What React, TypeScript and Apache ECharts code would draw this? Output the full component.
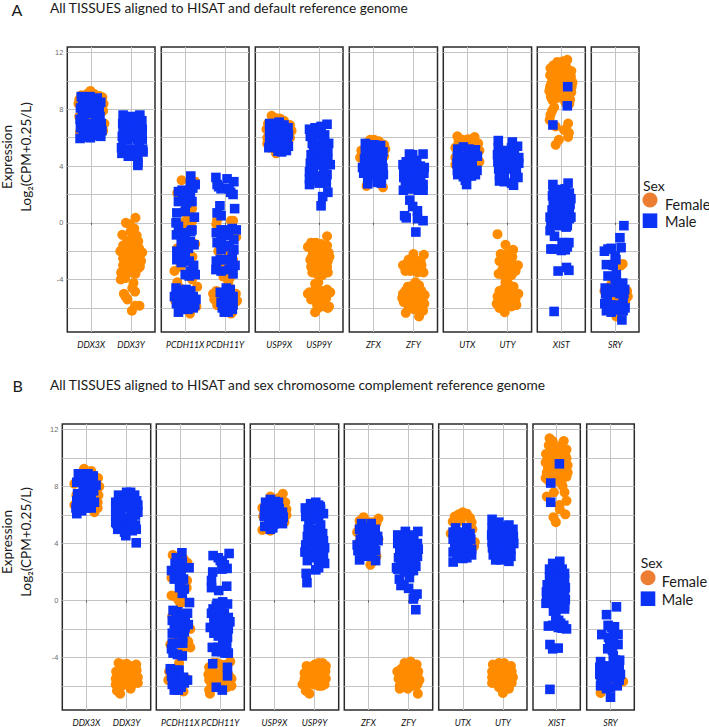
import React, { useEffect, useRef } from "react";
import * as echarts from "echarts";

// [jitter around the gene's position, log2 expression]
const aDdx3xF = [[-.3,8.7],[-.25,9],[-.1,9.1],[-.02,9.3],[.07,9.1],[.2,8.95],[.28,8.85],[.31,8.4],[.3,7.9],[.33,7],[.3,6.5],[-.28,6.4],[-.32,8.4],[-.3,7.5],[-.2,8.2],[.1,8],[-.1,7.3],[.05,7.3],[-.15,7.3]];
const aDdx3xM = [[-.28,5.95],[-.2,6.3],[-.13,6.05],[-.02,6],[.1,6.15],[.24,6.1],[.27,6.5],[-.27,6.7],[-.28,7.3],[-.15,6.8],[-.05,6.5],[.07,6.6],[.18,6.7],[.25,7],[.22,7.5],[.12,7.2],[0,7],[-.19,7.15],[-.22,7.7],[-.27,8.1],[-.14,7.9],[-.02,7.7],[.1,7.8],[.2,8.1],[.24,8.5],[.11,8.4],[0,8.3],[-.12,8.5],[-.22,8.5],[-.03,8.9],[.15,8.8],[-.25,8.9]];
const aDdx3yF = [[.11,.35],[-.13,0],[-.04,-.1],[.08,-.4],[-.01,-.6],[.14,-.9],[-.22,-.85],[.03,-1],[.18,-1.3],[-.1,-1.3],[.08,-1.5],[-.2,-1.6],[-.02,-1.7],[.2,-1.8],[-.27,-2],[-.1,-2.1],[.05,-2.1],[.28,-2.1],[.15,-2.4],[-.2,-2.5],[-.05,-2.6],[.25,-2.7],[.08,-2.9],[-.2,-3],[-.08,-3.1],[.18,-3.2],[-.14,-3.5],[.02,-3.5],[.11,-3.6],[-.26,-4],[-.15,-3.9],[.06,-4.25],[.1,-4.85],[.03,-4.6],[-.18,-5],[-.09,-5.4],[-.14,-5.2],[.02,-6.2],[.21,-5.85],[.1,-5.85],[-.2,-2.1],[.2,-2.3],[.12,-3],[-.1,-2.5],[.22,-3.1],[-.25,-3.5]];
const aDdx3yM = [[-.2,7.6],[-.1,7.4],[0,7.5],[.1,7.4],[.22,7.6],[-.21,7],[-.1,7],[.02,7],[.13,7],[.27,7.2],[-.2,6.4],[-.07,6.5],[.05,6.5],[.17,6.4],[.28,6.6],[-.2,5.9],[-.08,5.85],[.04,6.05],[.16,5.9],[-.24,5.3],[-.13,5.2],[-.02,5.1],[.1,5.2],[.2,5.3],[.29,5.2],[-.23,4.9],[-.07,4.7],[.04,4.75],[.17,4.6],[.3,5],[.17,4.25],[.17,4.05],[.28,5.9],[.27,6.2],[-.22,6.1]];
const aPcdh11xF = [[-.09,3],[.25,2.9],[-.2,2.1],[.02,1.2],[.17,1],[.05,.4],[-.04,0],[.17,.1],[-.05,-.3],[.25,-1.5],[-.2,-1.8],[.18,-2.4],[-.12,-3.1],[-.27,-3.4],[.2,-3.1],[-.2,-4.2],[.17,-4],[.3,-4.5],[-.13,-4.6],[.12,-6.4],[-.25,-5.5],[.28,-5.9]];
const aPcdh11xM = [[.14,3.3],[.25,2.7],[.13,2.8],[-.08,2.3],[-.17,2.2],[.04,2.2],[.19,2.45],[.13,1.85],[-.06,1.85],[-.17,1.5],[.03,1.4],[.17,1.5],[0,.8],[-.21,.7],[.23,.4],[-.23,0],[-.17,-.25],[.17,-.5],[-.22,-.85],[-.08,-.7],[.14,-.6],[0,-1.2],[.13,-1.3],[.22,-1.55],[-.08,-1.8],[.08,-1.8],[-.21,-2],[0,-2.25],[-.21,-2.6],[.21,-3],[.13,-3.4],[0,-3.65],[.25,-3.65],[.1,-3.75],[-.23,-4.6],[-.12,-4.8],[.02,-4.7],[.14,-4.8],[-.27,-5.2],[-.17,-5.3],[-.05,-5.2],[.07,-5.3],[.2,-5.2],[.27,-5.4],[-.22,-5.7],[-.1,-5.8],[.02,-5.8],[.13,-5.7],[.24,-5.8],[-.17,-6.3],[-.06,-6.1],[.07,-6.1],[.2,-6],[-.1,-1.4],[.1,-2.7],[-.1,-2.8]];
const aPcdh11yF = [[-.2,.2],[.15,.15],[.2,.15],[-.22,-.1],[.2,-.6],[.28,-1],[-.17,-2],[.1,-2.2],[.2,-2.6],[.1,-2.8],[-.12,-3.1],[-.04,-3.8],[.12,-3.9],[.08,-4.3],[-.3,-5],[-.22,-4.8],[-.27,-5.4],[-.2,-5.8],[-.1,-5.3],[.27,-5],[.3,-5.5],[.18,-6.3],[-.08,-5.9],[.22,-5.7],[.15,-6.4]];
const aPcdh11yM = [[-.23,3.2],[.05,3.1],[.22,2.9],[-.2,2.7],[-.1,2.4],[-.16,2.55],[.1,2.4],[.2,2],[.14,2.15],[-.13,1.2],[.24,1],[-.2,.7],[-.1,.5],[.18,-.4],[.02,-.5],[-.1,-.5],[-.22,-.7],[.28,-.5],[.08,-.9],[-.1,-1],[.22,-1.2],[-.2,-1.4],[.1,-1.6],[-.1,-1.9],[.22,-1.9],[0,-1.7],[.18,-2.4],[-.22,-2.7],[-.12,-2.6],[.02,-2.6],[.25,-3],[-.23,-3.3],[.1,-3.3],[.2,-3.6],[-.1,-3.4],[.03,-4.6],[.13,-4.7],[-.12,-4.9],[.1,-5],[-.03,-5.2],[.2,-5.2],[-.1,-5.6],[.02,-5.6],[.13,-5.5],[.2,-5.8],[-.02,-6.3],[.08,-6.3],[.18,-6.1],[-.07,-6],[-.1,-1.4],[.15,-2.9]];
const aUsp9xF = [[-.19,7.55],[-.1,7.4],[-.28,7],[-.32,6.6],[-.3,6],[-.3,5.6],[-.25,5.3],[-.08,4.9],[.14,5.4],[.27,6],[.31,6.5],[.27,6.9],[.12,7.2],[.02,7.35]];
const aUsp9xM = [[-.24,7],[-.12,7],[0,7.1],[.12,6.9],[.22,6.7],[-.24,6.5],[-.12,6.45],[0,6.5],[.12,6.4],[.23,6.2],[-.24,5.9],[-.12,5.9],[0,5.95],[.12,5.85],[.2,5.7],[-.26,5.3],[-.14,5.35],[-.02,5.3],[.12,5.4],[.23,5.4],[-.03,5.05],[.06,5],[.18,5.1]];
const aUsp9yF = [[.2,-.95],[-.2,-1.4],[-.08,-1.4],[.05,-1.5],[.2,-1.6],[-.28,-1.7],[-.16,-2],[-.04,-2],[.1,-2],[.24,-2.1],[-.18,-2.4],[-.05,-2.5],[.1,-2.5],[.26,-2.4],[-.15,-3],[0,-3],[.14,-3],[-.2,-3.1],[.2,-3.1],[-.17,-3.5],[-.06,-3.6],[.08,-3.7],[.22,-3.5],[-.1,-4.3],[-.08,-4.6],[.1,-4.8],[-.24,-4.9],[-.14,-5],[0,-4.8],[.2,-4.7],[.28,-4.9],[-.28,-5],[-.12,-5.4],[.04,-5.4],[.18,-5.3],[.25,-5.9],[-.05,-5.8],[.14,-5.9],[-.1,-6.3],[.22,-6],[-.22,-2.6],[.22,-2.7],[-.1,-3.3],[.05,-3.3],[-.2,-5.4],[.1,-5.3],[-.02,-6],[-.02,-4.2]];
const aUsp9yM = [[.2,6.95],[-.24,6.6],[-.1,6.7],[.05,6.8],[-.22,6.1],[-.1,6.2],[.02,6.3],[.14,6.2],[-.17,5.6],[-.06,5.5],[.08,5.6],[.24,5.6],[.18,5.2],[-.14,5.2],[0,5.1],[.15,4.9],[-.2,4.8],[-.05,4.6],[.08,4.6],[.22,4.5],[.28,4.1],[-.22,4.2],[-.1,4.1],[.05,4.1],[.18,4.1],[-.24,3.6],[-.14,3.6],[0,3.3],[.2,3.4],[-.24,3.1],[.18,3],[-.24,2.7],[0,2.8],[.18,2.8],[.22,2.15],[.09,1.85],[.05,1.2],[.13,5.6],[.22,5.1],[.12,3.7],[-.08,3],[-.2,3.9]];
const aZfxF = [[-.18,5.6],[-.08,5.85],[.02,5.85],[.14,5.75],[.27,5.5],[.3,5.2],[-.3,5.1],[-.33,4.6],[-.25,3.9],[-.17,2.6],[.24,2.5],[.1,3.5],[.27,4.7],[-.02,4.9]];
const aZfxM = [[-.2,5.6],[-.1,5.45],[.02,5.5],[.18,5.45],[-.2,5],[-.06,5],[.1,5.05],[.24,5],[-.22,4.5],[-.1,4.5],[.05,4.5],[.22,4.4],[-.27,3.9],[-.14,4],[0,4],[.13,3.9],[.24,3.85],[-.24,3.5],[-.1,3.4],[.1,3.5],[.25,3.4],[-.14,3],[-.14,2.75],[.1,2.85],[.2,2.8]];
const aZfyF = [[0,-2.2],[.26,-2.25],[.18,-2.7],[-.26,-3],[-.17,-2.9],[-.05,-2.9],[.1,-2.7],[.2,-3],[-.2,-3.4],[-.08,-3.4],[.06,-3.3],[.25,-3.5],[-.26,-5],[.05,-4.2],[.14,-4.4],[-.08,-4.5],[-.2,-4.8],[.2,-4.8],[.28,-5.1],[-.28,-5.3],[-.1,-5.1],[.06,-5],[.15,-5.3],[-.24,-5.6],[-.05,-5.7],[.2,-5.7],[.27,-5.7],[-.12,-6],[.08,-5.9],[-.19,-6.35],[.14,-6.6],[.24,-6.2],[-.12,-2.6],[.1,-3.5],[-.14,-4.5],[-.02,-4.4],[.1,-4.5],[-.16,-5.3],[.02,-5.5],[.12,-5.6],[.15,-4.9],[.02,-6.1]];
const aZfyM = [[.24,4.85],[-.02,4.8],[-.1,4.85],[-.18,4.3],[-.06,4.4],[.08,4.4],[-.26,4.1],[-.24,3.7],[-.1,3.9],[.04,3.9],[.17,4],[.27,3.9],[-.24,3.2],[-.12,3.4],[.02,3.4],[.15,3.4],[.26,3.5],[-.2,2.8],[-.08,2.9],[.05,2.9],[.18,2.9],[.24,2.7],[-.25,2.3],[-.12,2.4],[0,2.4],[.12,2.3],[.24,2.3],[-.09,1.6],[-.02,1.15],[.1,.85],[-.22,.5],[-.18,.35],[.1,.3],[.24,.15],[.06,-.65]];
const aUtxF = [[-.25,6.1],[-.22,5.75],[-.12,5.85],[.02,5.9],[.18,6.05],[.27,5.6],[-.03,5.6],[.1,5.75],[-.3,5.3],[.3,5.1],[-.3,4.6],[.3,4.3],[-.3,4.1],[.2,4.1],[.15,3.95]];
const aUtxM = [[-.24,5.2],[-.1,5.35],[.04,5.2],[.2,5.15],[-.25,4.7],[-.1,4.7],[.07,4.7],[.25,4.7],[-.26,4.2],[-.13,4.1],[0,4.2],[.12,4.3],[-.25,3.7],[-.12,3.6],[.02,3.75],[.24,3.7],[.1,3.9],[-.24,3.4],[-.1,3.25],[.1,3.3],[.2,3.4],[-.05,3],[-.02,2.7]];
const aUtyF = [[-.25,-.8],[-.05,-1.55],[.14,-1.9],[-.17,-2.2],[-.02,-2.2],[.12,-2.4],[-.2,-2.7],[-.05,-2.8],[.1,-2.9],[.26,-3],[-.13,-3.3],[.05,-3.3],[.2,-3.4],[-.22,-3.6],[-.1,-3.7],[.1,-3.7],[.02,-4.3],[.15,-4.5],[-.2,-4.8],[-.08,-4.6],[.08,-4.9],[.27,-5],[-.25,-5.2],[-.1,-5.2],[.05,-5.3],[.2,-5.4],[-.27,-5.7],[-.15,-5.7],[0,-5.8],[.22,-5.8],[-.2,-6],[-.1,-6],[-.07,-6.3],[.1,-5.9],[.14,-5.1],[-.16,-4.9],[-.05,-4.2],[.18,-3],[-.1,-2.4],[.12,-5.6]];
const aUtyM = [[-.23,5.8],[.12,5.7],[-.23,5.3],[-.05,5.1],[.1,5.3],[.25,5.4],[-.25,4.8],[-.12,4.8],[.04,4.8],[.17,4.9],[.28,4.6],[-.24,4.3],[-.14,4.3],[.03,4.3],[.15,4.3],[.28,4.2],[-.22,3.8],[-.1,3.8],[.1,3.8],[.22,3.7],[-.2,3.4],[-.08,3.4],[.18,3.4],[.26,3.2],[-.2,2.95],[-.08,2.9],[.1,2.8],[.15,2.65]];
const aXistF = [[.15,11.5],[.05,11.4],[-.1,11.35],[-.2,11.1],[-.27,10.9],[.12,11],[0,10.9],[-.28,10.4],[-.15,10.6],[-.02,10.4],[.1,10.5],[.24,10.3],[.28,9.9],[-.22,10],[-.08,9.9],[.12,9.9],[-.28,9.6],[-.15,9.5],[0,9.5],[.22,9.5],[-.3,9.3],[-.18,9.2],[-.05,9.1],[.1,9.1],[.25,9.2],[-.26,8.9],[-.22,8.65],[.04,8.85],[.14,8.75],[.22,8.7],[-.18,8.15],[-.23,7.9],[-.27,7.6],[-.29,7.25],[-.14,6.8],[.17,7],[.07,6.55],[.19,6.35],[.17,6.05],[-.06,5.85],[-.14,5.5],[.25,10.7],[-.1,10.2],[.02,9.9],[.26,9.6],[-.25,9.8],[.2,10.1],[-.1,8.8],[.2,8.4],[.1,8.5]];
const aXistM = [[.16,9.6],[.15,8.25],[-.21,6.9],[.17,2.8],[-.21,2.7],[-.2,2.3],[-.05,2.35],[.1,2.4],[.2,2.1],[-.22,1.9],[-.1,1.85],[.04,1.9],[.24,1.7],[-.2,1.4],[-.05,1.3],[.12,1.4],[.22,1.3],[-.23,.9],[-.1,.85],[.05,.9],[.2,.9],[-.28,.4],[-.16,.45],[.02,.5],[.12,.5],[-.26,.05],[-.12,.05],[.05,0],[.15,-.2],[-.28,-.55],[.12,-.3],[-.17,-.95],[.1,-1.4],[.19,-1.4],[.02,-1.4],[.05,-1.75],[.15,-1.7],[-.26,-1.85],[-.2,-1.85],[0,-1.95],[.1,-1.9],[-.08,-3.4],[.13,-3.15],[.19,-3.35],[-.18,-6.25],[.2,.3],[.24,.4],[-.1,1.1],[.15,.1],[-.05,-.2]];
const aSryF = [[.19,-2.9],[.15,-3],[-.1,-4.35],[.03,-6.6],[-.27,-4.8],[.3,-4.8],[-.22,-5.6],[.25,-5.6],[-.02,-5.2],[.1,-5.4],[-.12,-5.3],[.32,-5.2]];
const aSryM = [[.22,-.2],[.12,-1.05],[.15,-1.75],[-.27,-2],[-.1,-1.8],[-.18,-1.85],[0,-2.35],[.02,-2.6],[-.22,-2.95],[-.05,-3],[-.18,-3.75],[.03,-3.65],[0,-4.15],[.19,-4.25],[.12,-4.3],[-.25,-4.6],[-.1,-4.7],[.1,-4.7],[.24,-4.7],[-.24,-5],[.12,-5],[.22,-5],[-.05,-4.9],[-.26,-5.7],[-.12,-5.8],[0,-5.8],[.12,-5.85],[.25,-6],[-.22,-6.2],[-.05,-6.1],[.1,-6.15],[.2,-6.2],[.17,-6.85],[-.2,-5.4],[.2,-5.5],[-.1,-6.3]];

const bDdx3xF = [[-.06,9.25],[.12,9.1],[.2,6.2],[.29,8.6],[.32,8],[-.3,8.2],[-.18,8.5],[.3,7.4],[.28,6.9],[-.25,7.4],[.05,7.3],[-.3,6.7],[.28,6.5],[-.02,8.7]];
const bDdx3xM = [[-.2,8.9],[-.08,8.9],[.04,8.9],[.17,8.75],[-.24,8.3],[-.1,8.4],[.03,8.3],[.15,8.35],[.24,8.1],[-.08,7.9],[.06,7.8],[.18,7.7],[-.22,7.5],[-.02,7.5],[.12,7.5],[-.24,7],[-.12,7],[0,7],[.12,7],[.2,6.9],[-.26,6.5],[-.14,6.5],[0,6.5],[.12,6.5],[-.24,6.1],[-.12,6.3]];
const bDdx3yF = [[-.2,-4.4],[-.1,-4.5],[0,-4.45],[.1,-4.6],[.24,-4.5],[-.26,-5],[-.15,-5],[0,-5],[.12,-5],[.25,-4.9],[-.27,-5.5],[-.12,-5.5],[.02,-5.5],[.16,-5.5],[.28,-5.4],[-.27,-5.9],[-.12,-6],[0,-5.9],[.14,-5.9],[.28,-5.8],[.1,-6.2],[-.24,-6.35],[-.16,-6.55]];
const bDdx3yM = [[-.2,7.4],[-.1,7.2],[0,7.6],[.1,7.6],[.2,7.4],[-.27,6.9],[-.15,6.9],[-.02,7],[.12,7],[.25,7],[-.27,6.5],[-.15,6.4],[0,6.5],[.15,6.4],[.28,6.7],[-.27,6],[-.15,5.9],[0,5.8],[.12,6],[.22,6],[-.25,5.4],[-.13,5.3],[0,5.3],[.14,5.5],[.22,5.3],[-.22,5],[-.05,4.8],[-.02,4.55],[.14,4.9],[.24,5],[.24,4.05],[.28,6.2],[-.27,5.5]];
const bPcdh11xF = [[-.19,3.2],[.09,2.9],[.18,2.65],[-.05,2.6],[-.22,1.6],[.17,1.4],[.16,.9],[-.22,.35],[-.14,.3],[-.05,.05],[.08,-.1],[0,-.2],[-.2,-1.1],[.05,-1.3],[.25,-2],[.13,-2.7],[-.1,-2.5],[.2,-2.9],[.15,-3.2],[.25,-3.3],[-.25,-3.1],[-.18,-2.9],[.05,-3.5],[-.03,-4.4],[-.28,-5],[-.3,-5.6],[.08,-6.4],[.15,-5.5],[-.1,-5]];
const bPcdh11xM = [[.04,3.35],[-.1,3],[-.13,2.6],[.22,2.3],[-.22,2.1],[-.1,2],[.02,2.1],[-.15,1.5],[0,1.4],[.08,1.5],[-.02,.9],[.1,.8],[.05,.5],[.23,-.15],[-.18,-.7],[-.06,-.8],[.18,-.9],[-.2,-1.4],[.03,-1.1],[-.15,-1.6],[-.02,-1.7],[.12,-1.5],[.2,-1.7],[-.14,-2.2],[-.04,-2.3],[.1,-2.2],[-.2,-2.3],[-.05,-3],[.06,-3],[-.18,-3.7],[-.07,-3.8],[.05,-3.9],[-.22,-3.4],[-.25,-4.8],[-.12,-4.9],[-.03,-4.9],[-.22,-5.3],[-.1,-5.5],[.02,-5.5],[.18,-5.6],[.08,-5.4],[-.2,-5.9],[-.08,-6],[.02,-6.1],[-.15,-6.3],[-.05,-6.3],[.05,2.7],[-.1,-1.1],[.12,-1],[.12,-1.9],[.06,-2.6],[-.2,-3],[.1,-5.8]];
const bPcdh11yF = [[-.28,-4.7],[-.18,-4.4],[-.08,-4.4],[.02,-4.5],[.15,-4.5],[.25,-4.3],[-.3,-5.2],[-.2,-5],[-.12,-5.1],[.02,-5.1],[.12,-5],[.28,-5.5],[-.28,-5.6],[-.18,-5.7],[-.06,-5.6],[.1,-5.6],[.22,-5.3],[-.22,-6],[-.1,-6.1],[.05,-6],[.17,-6.1],[.28,-6],[-.26,-6.55],[-.28,-6.3]];
const bPcdh11yM = [[.22,3.3],[-.18,3.15],[-.05,3],[.05,2.7],[0,2.8],[.1,2.5],[.17,2.25],[.04,2.2],[-.19,2],[-.22,1.4],[-.22,.9],[-.04,.7],[.16,1],[.06,-.1],[-.1,-.4],[.18,-.25],[.02,-.6],[-.18,-.6],[-.22,-.9],[.1,-.9],[-.1,-1],[.2,-1.2],[.06,-1.3],[.24,-1.5],[-.16,-1.4],[-.08,-1.7],[.1,-1.8],[-.25,-1.9],[.2,-2],[-.16,-2.3],[.05,-2.4],[-.05,-2.5],[.18,-2.6],[.06,-3],[.16,-3.2],[-.2,-3.3],[-.06,-3.3],[.2,-3.7],[.04,-3.6],[-.19,-4.45],[.18,-4.7],[.18,-5.3],[-.1,-6.1],[.05,-6.3],[-.08,-.2],[.14,-1.5],[.02,-1.6],[-.08,-2],[.1,-2.6],[-.1,-3.6],[.12,-3.7]];
const bUsp9xF = [[.21,7.5],[.17,7.2],[-.1,7.3],[.1,7.2],[.27,6.9],[.3,6.4],[.3,6],[-.28,5.9],[-.3,6.5],[-.3,4.95],[-.1,4.9],[-.02,5.5],[.25,5.5]];
const bUsp9xM = [[-.22,6.9],[-.1,7.1],[.02,6.95],[.1,6.9],[-.24,6.4],[-.12,6.5],[0,6.4],[.12,6.45],[.2,6.2],[-.25,5.9],[-.12,5.95],[0,5.85],[.12,5.85],[.22,5.85],[-.24,5.2],[-.14,5.4],[-.02,5.35],[.1,5.5],[.2,5.4],[-.1,5],[-.04,5.1]];
const bUsp9yF = [[-.2,-4.6],[-.1,-4.7],[0,-4.5],[.1,-4.4],[.2,-4.4],[.28,-4.6],[-.25,-5.1],[-.12,-5.1],[.02,-5],[.14,-5],[.27,-5],[-.25,-5.5],[-.12,-5.5],[0,-5.5],[.14,-5.5],[.28,-5.5],[-.3,-5.9],[-.16,-5.9],[-.02,-5.9],[.1,-6],[.25,-5.9],[.18,-6],[-.22,-6.35],[-.13,-6.55]];
const bUsp9yM = [[-.1,6.8],[.03,6.9],[.1,6.7],[-.23,6.5],[.15,6.4],[-.22,5.9],[-.1,6.2],[.02,6.2],[.22,6.1],[-.14,5.5],[0,5.7],[.1,5.7],[.15,5.3],[-.16,5],[-.02,5],[.2,4.7],[-.18,4.5],[-.05,4.4],[.08,4.5],[.22,4.2],[-.22,3.9],[-.12,4],[.02,4],[.14,3.9],[.25,3.7],[-.24,3.4],[-.12,3.3],[.02,3.6],[.16,3.2],[-.18,2.8],[.15,2.8],[.25,2.6],[.1,2.3],[.03,2.15],[-.21,1.9],[-.19,1.25],[.14,6.6],[.12,5],[.08,4.8],[.22,3.2],[.05,3],[.1,2.7]];
const bZfxF = [[-.22,5.6],[-.12,5.85],[-.22,5.2],[.25,5.75],[.1,5.5],[-.28,4.8],[.25,4.3],[.2,3.1],[.05,2.5],[.1,2.7],[-.22,4.2],[.2,5.4],[-.05,5.6]];
const bZfxM = [[-.17,5.4],[.07,5.4],[-.22,5],[-.1,5.1],[.1,4.9],[.17,5],[-.14,4.6],[-.02,4.6],[.12,4.6],[.23,4.5],[-.2,4.3],[-.1,4.1],[.05,4.1],[.24,4.2],[-.28,3.9],[-.15,3.8],[0,3.9],[.14,3.9],[-.26,3.5],[-.12,3.4],[.02,3.5],[.18,3.5],[-.07,3.1],[.1,3.1],[-.22,2.85],[.18,2.8]];
const bZfyF = [[-.1,-4.4],[.05,-4.3],[.2,-4.5],[-.18,-4.8],[-.02,-4.8],[.15,-4.9],[.24,-5],[-.28,-5],[-.1,-5.2],[.05,-5.3],[.22,-5.3],[-.25,-5.5],[-.12,-5.7],[0,-5.6],[.12,-5.7],[.27,-5.6],[-.22,-6],[-.08,-6],[.1,-6],[.22,-5.9],[-.02,-6.2],[-.22,-6.2],[.23,-6.55]];
const bZfyM = [[-.08,4.85],[.23,4.85],[-.27,4.6],[-.1,4.5],[.02,4.6],[.22,4],[-.27,4],[-.15,4.1],[0,4],[.13,4.3],[-.22,3.5],[-.1,3.6],[.03,3.6],[.2,3.4],[.24,3.6],[-.25,3],[-.13,3.1],[.02,3.1],[.16,3],[-.3,2.3],[-.2,2.5],[-.07,2.6],[.06,2.5],[.18,2.4],[-.27,2.2],[-.1,2],[.03,2.05],[.12,2.1],[-.23,1.5],[.02,1.6],[-.19,1.05],[-.12,1.1],[0,.85],[.21,.45],[.14,.35],[.12,.1],[.18,-.65],[.1,4.4],[.15,3.7],[.22,3.1]];
const bUtxF = [[-.2,5.9],[-.1,6.05],[0,6.2],[.1,6.1],[.18,5.8],[-.25,5.55],[-.05,5.6],[.22,5.5],[.24,5],[-.3,4.7],[.3,4.1],[-.12,3.9],[.28,3.8]];
const bUtxM = [[-.18,5.1],[.1,5.1],[-.24,4.8],[-.1,4.7],[.02,4.8],[.18,4.7],[-.24,4.3],[-.12,4.2],[.04,4.2],[.2,4.3],[-.2,3.8],[-.06,3.9],[.12,3.7],[.22,3.6],[-.24,3.4],[-.1,3.3],[.1,3.3],[.22,3.2],[-.14,3],[0,2.95],[.1,3],[-.24,2.7]];
const bUtyF = [[-.25,-4.5],[-.1,-4.4],[.03,-4.4],[.2,-4.6],[-.27,-5],[-.12,-4.9],[.05,-4.9],[.22,-5],[-.27,-5.4],[-.1,-5.4],[.06,-5.4],[.25,-5.4],[-.27,-5.8],[-.12,-5.8],[.05,-5.8],[.22,-5.8],[-.1,-6.1],[.05,-6.1],[.15,-6.2],[0,-6.5]];
const bUtyM = [[-.27,5.7],[-.1,5.5],[.02,5.2],[.15,5.3],[-.27,5.1],[-.15,5.15],[0,4.8],[.25,5],[-.28,4.6],[-.12,4.6],[.03,4.6],[.16,4.6],[.26,4.5],[-.27,4.1],[-.12,4.1],[.05,4.1],[.2,4.1],[.27,4],[-.26,3.7],[-.1,3.6],[.04,3.6],[.2,3.6],[-.24,3.2],[-.1,3.2],[.08,3.2],[.2,3.1],[-.18,2.85],[-.06,2.85],[.15,2.75]];
const bXistF = [[-.18,11.4],[-.1,11.2],[.18,11.2],[-.2,10.9],[-.05,10.7],[.1,10.5],[.25,10.6],[-.27,10.3],[-.12,10.3],[.05,10.2],[.22,10.2],[-.28,9.7],[-.15,9.8],[0,9.8],[.18,9.7],[.28,9.5],[-.22,9.3],[-.1,9.3],[.06,9.2],[.24,9.1],[.28,9],[-.22,8.8],[-.12,8.7],[0,8.6],[.12,8.7],[.25,8.7],[-.28,8.6],[-.05,8.4],[.08,8.4],[.15,8.05],[-.25,7.3],[-.07,7.6],[.2,7.6],[.25,7],[.07,6.7],[.08,6.4],[.22,6.05],[-.08,5.85],[-.02,5.5],[.12,10.9],[.25,10],[.15,9.4],[-.25,9],[.12,8.2],[-.2,8.4]];
const bXistM = [[.07,9.6],[-.15,8.25],[-.15,6.9],[.08,2.75],[-.1,2.6],[.14,2.2],[-.18,2.2],[-.05,2.2],[.02,1.9],[.2,1.9],[-.18,1.6],[-.05,1.5],[.1,1.6],[.2,1.5],[-.24,1.1],[-.12,1.1],[.05,1.1],[.22,.9],[-.26,.6],[-.12,.6],[.05,.6],[.2,.5],[-.25,.15],[-.13,.2],[.05,.15],[.22,.05],[-.27,-.2],[-.1,-.2],[.05,-.3],[.2,-.4],[-.02,-.9],[-.08,-.75],[.2,-.6],[.05,-1.4],[.1,-1.6],[-.02,-1.5],[.18,-1.75],[-.21,-1.8],[-.1,-1.75],[.04,-1.9],[.14,-1.95],[.25,-2],[-.17,-3.1],[.04,-3.35],[-.1,-3.4],[-.17,-6.25],[-.05,.9],[.1,.3],[-.05,-.5]];
const bSryF = [[-.25,-6.5],[-.1,-5.4],[.11,-4.75],[-.18,-5.7],[.08,-5.8],[.32,-5.7],[.2,-4.2],[.02,-5.35],[-.05,-5.5]];
const bSryM = [[.15,-.45],[-.1,-1],[-.06,-1.75],[.1,-1.85],[.03,-1.9],[-.22,-2.4],[.19,-2.4],[.07,-2.5],[-.02,-3.1],[.19,-3.1],[0,-3.3],[-.07,-3.4],[.07,-3.9],[.23,-4.2],[.12,-4.2],[-.25,-4.3],[-.27,-4.7],[-.15,-4.6],[0,-4.7],[.12,-4.7],[.22,-4.7],[-.27,-5.2],[-.1,-5.1],[.02,-5.1],[.16,-5.1],[.25,-5.2],[-.24,-5.6],[-.08,-5.5],[.1,-5.4],[.22,-5.6],[-.25,-6],[-.1,-6.2],[0,-6.15],[.17,-6],[0,-6.8],[-.18,-5.1],[.08,-4.4],[.05,-3.5],[-.05,-2.6]];

const facetGenes = [["DDX3X","DDX3Y"],["PCDH11X","PCDH11Y"],["USP9X","USP9Y"],["ZFX","ZFY"],["UTX","UTY"],["XIST"],["SRY"]];
const femaleA = [[aDdx3xF,aDdx3yF],[aPcdh11xF,aPcdh11yF],[aUsp9xF,aUsp9yF],[aZfxF,aZfyF],[aUtxF,aUtyF],[aXistF],[aSryF]];
const maleA = [[aDdx3xM,aDdx3yM],[aPcdh11xM,aPcdh11yM],[aUsp9xM,aUsp9yM],[aZfxM,aZfyM],[aUtxM,aUtyM],[aXistM],[aSryM]];
const femaleB = [[bDdx3xF,bDdx3yF],[bPcdh11xF,bPcdh11yF],[bUsp9xF,bUsp9yF],[bZfxF,bZfyF],[bUtxF,bUtyF],[bXistF],[bSryF]];
const maleB = [[bDdx3xM,bDdx3yM],[bPcdh11xM,bPcdh11yM],[bUsp9xM,bUsp9yM],[bZfxM,bZfyM],[bUtxM,bUtyM],[bXistM],[bSryM]];
const yGrid = [-6,-4,-2,0,2,4,6,8,10,12];
const yLabels = [-4,0,4,8,12];

const ORANGE = "#FF8C00";
const BLUE = "#0B33F5";
const FONT = "Lato, 'Open Sans', sans-serif";

const panels = [
  { top: 47, bottom: 332, edges: [[67.3,155],[161.3,249],[255.3,343],[349.3,437.5],[443.3,531.6],[537.3,585.3],[591.3,639]], female: femaleA, male: maleA },
  { top: 424, bottom: 710, edges: [[62.3,150.7],[156.3,244.3],[250.3,338.7],[344.3,432.7],[438.7,527],[533,580.3],[586.7,634.3]], female: femaleB, male: maleB },
];

function buildOption() {
  const grid: any[] = [], xAxis: any[] = [], yAxis: any[] = [], series: any[] = [];
  panels.forEach((p) => {
    p.edges.forEach(([l, r], f) => {
      const i = grid.length;
      const genes = facetGenes[f];
      grid.push({ left: l, top: p.top, width: r - l, height: p.bottom - p.top, show: true, borderColor: "#2b2b2b", borderWidth: 1.5, backgroundColor: "#fff" });
      const ticks = genes.map((_, k) => k + 1);
      xAxis.push({
        type: "value", gridIndex: i, min: 0.4, max: genes.length + 0.6,
        axisLine: { show: false },
        axisTick: { show: true, length: 2, customValues: ticks, lineStyle: { color: "#555" } },
        axisLabel: { customValues: ticks, margin: 8, fontSize: 8.8, fontStyle: "italic", fontFamily: FONT, color: "#111", hideOverlap: false, formatter: (v: number) => genes[Math.round(v) - 1] },
        splitLine: { show: true, lineStyle: { color: "#c4c4c4", width: 1 } },
      });
      yAxis.push({
        type: "value", gridIndex: i, min: -7.7, max: 12.4,
        axisLine: { show: false },
        axisTick: { show: false, customValues: yGrid },
        axisLabel: { show: f === 0, customValues: yLabels, margin: 4, fontSize: 7.5, fontFamily: "'Liberation Sans', sans-serif", color: "#6e6e6e" },
        splitLine: { show: true, lineStyle: { color: "#c4c4c4", width: 1 } },
      });
      const toData = (sets: number[][][]) => sets.flatMap((pts, k) => pts.map(([d, v]) => [k + 1 + d, v]));
      series.push({ type: "scatter", name: "Female", xAxisIndex: i, yAxisIndex: i, symbol: "circle", symbolSize: 10, silent: true, z: 2, itemStyle: { color: ORANGE, opacity: 1 }, data: toData(p.female[f]) });
      series.push({ type: "scatter", name: "Male", xAxisIndex: i, yAxisIndex: i, symbol: "rect", symbolSize: 9.6, silent: true, z: 3, itemStyle: { color: BLUE, opacity: 1 }, data: toData(p.male[f]) });
    });
  });

  const t = (text: string, x: number, y: number, size: number, extra: any = {}) => ({
    type: "text", x, y, silent: true, z: 10,
    style: { text, fontSize: size, fontFamily: FONT, fill: "#1a1a1a", verticalAlign: "middle", ...extra },
  });
  const rot = (text: string, x: number, y: number) => ({
    type: "text", x, y, rotation: Math.PI / 2, silent: true, z: 10,
    style: { text, fontSize: 13.5, fontFamily: FONT, fill: "#1a1a1a", align: "center", verticalAlign: "middle" },
  });
  const legend = (sx: number, sy: number, cx: number, cy: number, tx: number, fy: number, sqy: number, my: number) => [
    t("Sex", sx, sy, 14),
    { type: "circle", shape: { cx, cy, r: 7.5 }, style: { fill: "#ED7D31" }, silent: true, z: 10 },
    t("Female", tx, fy, 14.5),
    { type: "rect", shape: { x: cx - 7.3, y: sqy - 7.3, width: 14.6, height: 14.6 }, style: { fill: "#0B33F5" }, silent: true, z: 10 },
    t("Male", tx, my, 14.5),
  ];
  const graphic = [
    t("A", 11.5, 9, 16),
    t("All TISSUES aligned to HISAT and default reference genome", 50, 7.5, 13.7),
    t("B", 12.5, 385, 16),
    t("All TISSUES aligned to HISAT and sex chromosome complement reference genome", 50, 384, 13.7),
    rot("Expression", 7, 157), rot("Log₂(CPM+0.25/L)", 25.5, 157),
    rot("Expression", 7, 542), rot("Log₂(CPM+0.25/L)", 25.5, 542),
    ...legend(643, 185.5, 650, 200, 665, 204, 220.7, 221.7),
    ...legend(640.7, 562.5, 648, 577.7, 661.7, 581, 598.7, 599),
  ];
  return { animation: false, backgroundColor: "#fff", grid, xAxis, yAxis, series, graphic };
}

export default function App() {
  const ref = useRef<HTMLDivElement>(null);
  useEffect(() => {
    const chart = echarts.init(ref.current!, undefined, { renderer: "svg" });
    chart.setOption(buildOption() as any);
    return () => chart.dispose();
  }, []);
  return <div ref={ref} style={{ position: "absolute", left: 0, top: 0, width: 709, height: 727 }} />;
}
